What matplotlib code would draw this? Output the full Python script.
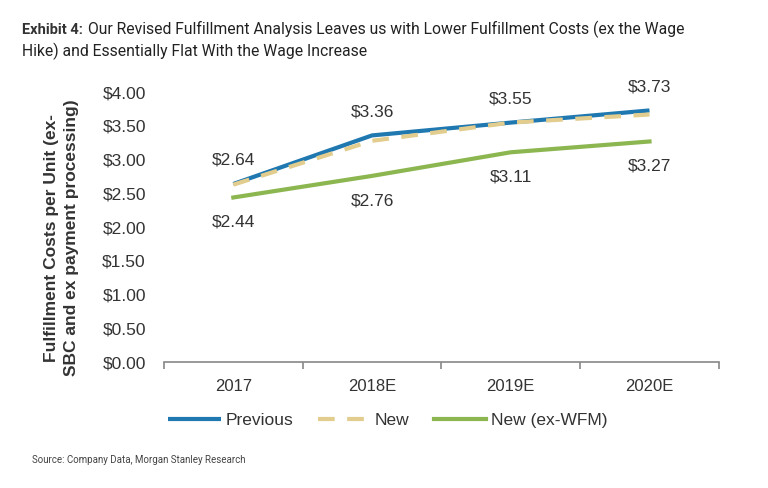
import matplotlib.pyplot as plt
import numpy as np

years = ['2017', '2018E', '2019E', '2020E']
previous = [2.64, 3.36, 3.55, 3.73]
new = [2.63, 3.28, 3.55, 3.67]
new_ex_wfm = [2.44, 2.76, 3.11, 3.27]

prev_labels = ['$2.64', '$3.36', '$3.55', '$3.73']
wfm_labels = ['$2.44', '$2.76', '$3.11', '$3.27']

blue = '#1f78b0'
tan = '#e2cd8e'
green = '#8cb650'
text_col = '#333333'

plt.rcParams['font.family'] = ['Liberation Sans', 'DejaVu Sans']

fig = plt.figure(figsize=(7.68, 4.88), dpi=100)
ax = fig.add_axes([0.2135, 0.258, 0.7225, 0.553])

x = np.arange(len(years))
ax.plot(x, previous, color=blue, lw=3, label='Previous', solid_capstyle='butt')
ax.plot(x, new, color=tan, lw=3, ls=(0, (4, 3)), label='New')
ax.plot(x, new_ex_wfm, color=green, lw=3, label='New (ex-WFM)')

for xi, v, s in zip(x, previous, prev_labels):
    ax.annotate(s, (xi, v), xytext=(0, 17), textcoords='offset points',
                ha='center', va='center', fontsize=12.5, color=text_col)
for xi, v, s in zip(x, new_ex_wfm, wfm_labels):
    ax.annotate(s, (xi, v), xytext=(0, -18), textcoords='offset points',
                ha='center', va='center', fontsize=12.5, color=text_col)

ax.set_xlim(-0.5, 3.5)
ax.set_ylim(0, 4.0)
ax.set_yticks(np.arange(0, 4.01, 0.5))
ax.set_yticklabels(['$%.2f' % t for t in np.arange(0, 4.01, 0.5)])
ax.set_xticks(x)
ax.set_xticklabels(years)
ax.set_xticks([-0.5, 0.5, 1.5, 2.5, 3.5], minor=True)

for side in ['top', 'right', 'left']:
    ax.spines[side].set_visible(False)
ax.spines['bottom'].set_color('#888888')
ax.spines['bottom'].set_linewidth(1.2)
ax.tick_params(axis='y', length=0, pad=13, labelsize=12.5, labelcolor=text_col)
ax.tick_params(axis='x', which='major', length=0, pad=12, labelsize=12, labelcolor=text_col)
ax.tick_params(axis='x', which='minor', length=5, color='#888888', width=1.2, direction='out')

ax.set_ylabel('Fulfillment Costs per Unit (ex-\nSBC and ex payment processing)',
              fontsize=12.5, fontweight='bold', color=text_col, linespacing=1.4)
ax.yaxis.set_label_coords(-0.153, 0.46)

leg = ax.legend(loc='upper center', bbox_to_anchor=(0.404, -0.13), ncol=3, frameon=False,
                fontsize=12.5, handlelength=3.0, handletextpad=0.3, columnspacing=1.4)
for t in leg.get_texts():
    t.set_color(text_col)

fig.text(0.029, 0.93, 'Exhibit 4:', fontsize=10.5, fontweight='bold', color=text_col,
         family='Roboto')
fig.text(0.114, 0.93, 'Our Revised Fulfillment Analysis Leaves us with Lower Fulfillment Costs (ex the Wage',
         fontsize=11.3, color='#222222', family='Roboto')
fig.text(0.029, 0.885, 'Hike) and Essentially Flat With the Wage Increase',
         fontsize=11.3, color='#222222', family='Roboto')
fig.text(0.042, 0.052, 'Source: Company Data, Morgan Stanley Research', fontsize=7,
         color='#444444', family='Roboto')

fig.savefig('out.png', dpi=100)
